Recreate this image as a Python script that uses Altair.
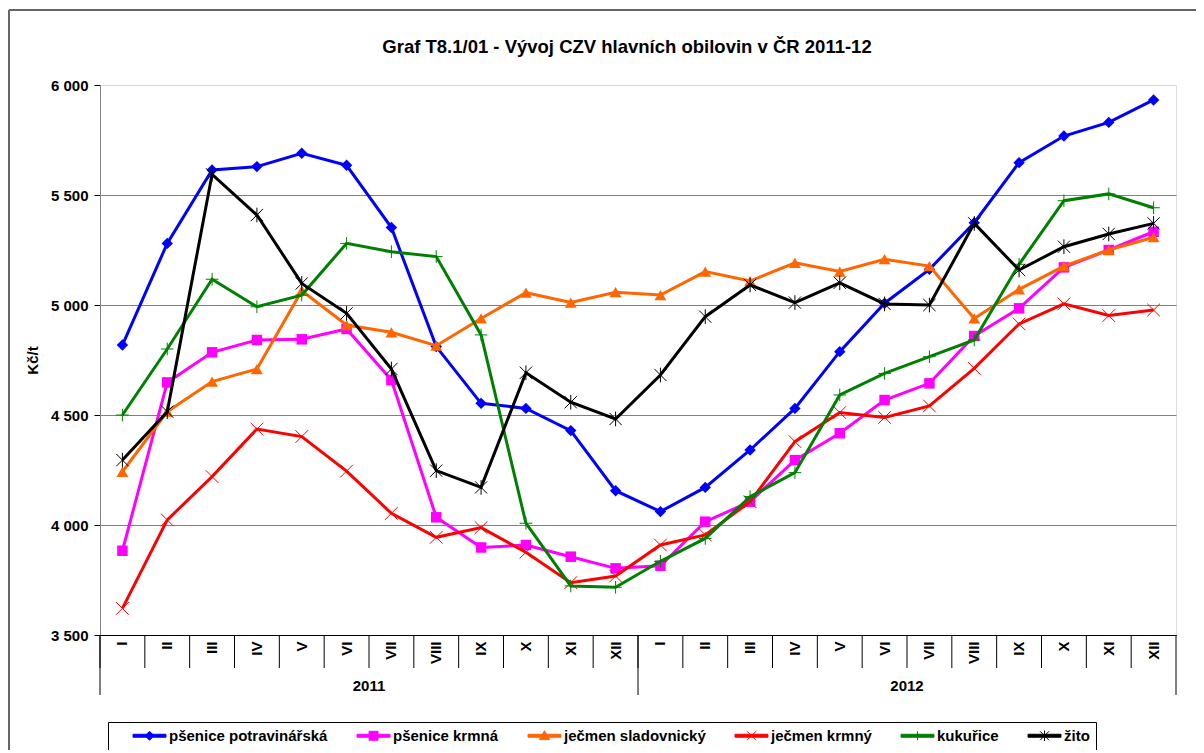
import altair as alt
import pandas as pd

months = ["I", "II", "III", "IV", "V", "VI", "VII", "VIII", "IX", "X", "XI", "XII"]
years = ["2011", "2012"]
keys = [f"{y}-{m}" for y in years for m in months]

series = ["pšenice potravinářská", "pšenice krmná", "ječmen sladovnický",
          "ječmen krmný", "kukuřice", "žito"]
colors = ["#0000FF", "#FF00FF", "#FF6600", "#FF0000", "#008000", "#000000"]

psenice_potravinarska = [4818, 5280, 5614, 5629, 5690, 5635, 5352, 4811, 4553, 4530, 4429, 4156,
                         4061, 4171, 4341, 4530, 4788, 5008, 5162, 5374, 5647, 5768, 5830, 5932]
psenice_krmna = [3883, 4648, 4785, 4841, 4844, 4891, 4659, 4035, 3898, 3909, 3856, 3803,
                 3815, 4015, 4106, 4295, 4417, 4568, 4644, 4859, 4985, 5171, 5250, 5333]
jecmen_sladovnicky = [4242, 4515, 4652, 4709, 5065, 4909, 4876, 4815, 4939, 5056, 5011, 5058,
                      5045, 5152, 5109, 5192, 5152, 5208, 5177, 4939, 5071, 5177, 5250, 5308]
jecmen_krmny = [3621, 4023, 4220, 4436, 4402, 4245, 4053, 3944, 3988, 3876, 3738, 3768,
                3909, 3955, 4106, 4379, 4511, 4489, 4541, 4712, 4914, 5005, 4952, 4977]
kukurice = [4500, 4800, 5117, 4992, 5045, 5280, 5242, 5220, 4864, 4008, 3723, 3717,
            3835, 3939, 4129, 4238, 4591, 4689, 4765, 4841, 5185, 5474, 5505, 5442]
zito = [4295, 4515, 5594, 5409, 5098, 4962, 4709, 4247, 4171, 4692, 4558, 4482,
        4682, 4947, 5091, 5011, 5101, 5005, 5000, 5371, 5159, 5265, 5323, 5371]

values = [psenice_potravinarska, psenice_krmna, jecmen_sladovnicky, jecmen_krmny, kukurice, zito]

y_ticks = [3500, 4000, 4500, 5000, 5500, 6000]
title_text = "Graf T8.1/01 - Vývoj CZV hlavních obilovin v ČR 2011-12"

FONT = "Liberation Sans"

rows = []
for s, vals in zip(series, values):
    for k, v in zip(keys, vals):
        rows.append({"series": s, "key": k, "value": v})
df = pd.DataFrame(rows)
keys_df = pd.DataFrame({"key": keys})
year_start_df = pd.DataFrame({"key": ["2011-I", "2012-I"]})
year_end_df = pd.DataFrame({"key": ["2012-XII"]})
year_lbl_df = pd.DataFrame({"key": ["2011-VI", "2012-VI"], "year": years})
title_df = pd.DataFrame({"t": [title_text]})

W, H = 1076, 550

xscale = alt.Scale(type="band", domain=keys, paddingInner=0, paddingOuter=0)
xaxis = alt.Axis(
    title="", labelExpr="split(datum.value, '-')[1]", labelAngle=270,
    labelPadding=6, ticks=False, grid=False, domainColor="#000000", domainWidth=1,
    labelFont=FONT, labelFontSize=15, labelFontWeight="bold", labelColor="#000000",
)
yscale = alt.Scale(domain=[3500, 6000], nice=False, zero=False)
yaxis = alt.Axis(
    title="Kč/t", values=y_ticks,
    labelExpr="replace(format(datum.value, ','), ',', ' ')",
    tickSize=6, tickColor="#000000", labelPadding=6,
    domainColor="#808080", domainWidth=1,
    grid=True, gridWidth=1,
    gridColor=alt.condition("datum.value == 6000", alt.value("#d9d9d9"), alt.value("#808080")),
    labelFont=FONT, labelFontSize=15, labelFontWeight="bold", labelColor="#000000",
    titleFont=FONT, titleFontSize=15, titleFontWeight="bold", titleColor="#000000",
    titlePadding=10,
)

def X(**kw):
    return alt.X("key:N", scale=xscale, axis=xaxis, **kw)

Y = alt.Y("value:Q", scale=yscale, axis=yaxis)

layers = []

# outer chart-area frame
layers.append(alt.Chart(keys_df).mark_rule(color="#666666", strokeWidth=1.5).encode(
    x=alt.value(-91), x2=alt.value(1096), y=alt.value(-75)))
layers.append(alt.Chart(keys_df).mark_rule(color="#666666", strokeWidth=1).encode(
    x=alt.value(-91), y=alt.value(-75), y2=alt.value(665)))

# chart title
layers.append(alt.Chart(title_df).mark_text(
    font=FONT, fontSize=18.5, fontWeight="bold", color="#000000",
    baseline="middle", align="center"
).encode(x=alt.value(527), y=alt.value(-38), text="t:N"))

# category separators under the axis
layers.append(alt.Chart(keys_df).mark_rule(color="#000000", strokeWidth=1).encode(
    x=X(bandPosition=0), y=alt.value(H), y2=alt.value(H + 33)))
# year separators
layers.append(alt.Chart(year_start_df).mark_rule(color="#000000", strokeWidth=1).encode(
    x=X(bandPosition=0), y=alt.value(H), y2=alt.value(H + 60)))
layers.append(alt.Chart(year_end_df).mark_rule(color="#000000", strokeWidth=1).encode(
    x=X(bandPosition=1), y=alt.value(H), y2=alt.value(H + 60)))
# year labels
layers.append(alt.Chart(year_lbl_df).mark_text(
    font=FONT, fontSize=15, fontWeight="bold", color="#000000", baseline="alphabetic"
).encode(x=X(bandPosition=1), y=alt.value(H + 56), text="year:N"))

markers = [
    dict(shape="diamond", filled=True, size=130, strokeWidth=1),
    dict(shape="square", filled=True, size=110, strokeWidth=1),
    dict(shape="triangle-up", filled=True, size=140, strokeWidth=1),
    dict(shape="M-1,-1L1,1M-1,1L1,-1", filled=False, size=160, strokeWidth=1),
    dict(shape="M-1,0L1,0M0,-1L0,1", filled=False, size=160, strokeWidth=1),
    dict(shape="M-1,-1L1,1M-1,1L1,-1M0,-1.2L0,1.2", filled=False, size=150, strokeWidth=1),
]

for s, c, m in zip(series, colors, markers):
    sub = df[df["series"] == s]
    layers.append(alt.Chart(sub).mark_line(color=c, strokeWidth=3).encode(x=X(), y=Y))
    layers.append(alt.Chart(sub).mark_point(color=c, opacity=1, **m).encode(x=X(), y=Y))

# legend symbols: a line segment with the series marker (unit = 7 px, centre shifted)
L0, L1, C, h = -1.07, 3.64, 1.29, 0.21
line_part = f"M{L0},{-h}L{L1},{-h}L{L1},{h}L{L0},{h}Z"
r = 0.64
legend_paths = [
    line_part + f"M{C},{-r}L{C + r},0L{C},{r}L{C - r},0Z",
    line_part + f"M{C - r},{-r}L{C + r},{-r}L{C + r},{r}L{C - r},{r}Z",
    line_part + f"M{C},{-0.72}L{C + 0.72},{0.55}L{C - 0.72},{0.55}Z",
    line_part + f"M{C - r},{-r}L{C + r},{r}M{C - r},{r}L{C + r},{-r}",
    line_part + f"M{C - r},0L{C + r},0M{C},{-r}L{C},{r}",
    line_part + f"M{C - r},{-r}L{C + r},{r}M{C - r},{r}L{C + r},{-r}M{C},{-0.75}L{C},{0.75}",
]
pad_last = "\u00a0" * 9
leg = alt.Legend(
    title=" ", titleOrient="left", titlePadding=19,
    orient="none", legendX=8, legendY=637, direction="horizontal",
    strokeColor="#000000", fillColor="#ffffff", padding=6,
    symbolSize=196, symbolStrokeWidth=1, symbolOpacity=1,
    labelFont=FONT, labelFontSize=15, labelFontWeight="bold", labelColor="#000000",
    labelOffset=21, columnPadding=27, labelLimit=400,
    labelExpr=f"datum.label == 'žito' ? datum.label + '{pad_last}' : datum.label",
)
layers.append(alt.Chart(df).mark_point(filled=True, size=196, strokeWidth=1).encode(
    x=X(), y=Y,
    shape=alt.Shape("series:N", scale=alt.Scale(domain=series, range=legend_paths), legend=leg),
    fill=alt.Fill("series:N", scale=alt.Scale(domain=series, range=colors), legend=leg),
    stroke=alt.Stroke("series:N", scale=alt.Scale(domain=series, range=colors), legend=leg),
).transform_filter("false"))

chart = alt.layer(*layers).properties(
    width=W, height=H,
    autosize=alt.AutoSizeParams(type="none"),
    padding={"left": 92, "top": 77, "right": 20, "bottom": 115},
).configure_view(strokeWidth=0).configure(background="#ffffff")

chart.save("out.html", embed_options={"renderer": "svg", "actions": False})
